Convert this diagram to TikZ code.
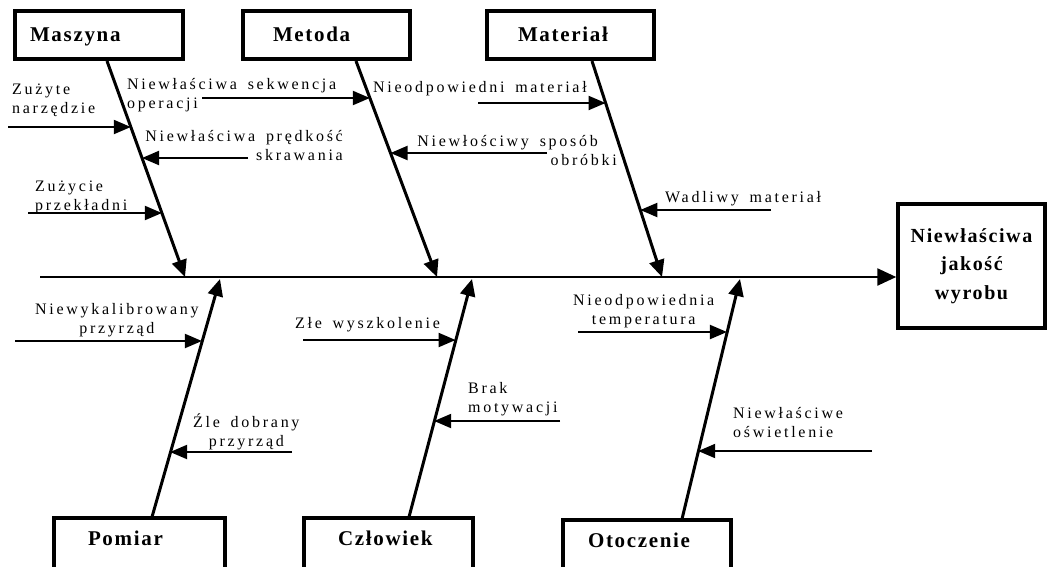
\documentclass[tikz,border=0pt]{standalone}
\usepackage{fontspec}
\setmainfont{Liberation Serif}
\newfontfamily\labfont[LetterSpace=17,WordSpace=1.6]{Liberation Serif}
\newfontfamily\boxfont[LetterSpace=8]{Liberation Serif}
\usetikzlibrary{arrows.meta,calc}
\begin{document}
\begin{tikzpicture}[x=1pt,y=-1pt,
  cause/.style={draw, line width=3.5pt, inner ysep=0pt, align=left, font=\boxfont\bfseries\fontsize{21}{24}\selectfont},
  topbox/.style={cause, minimum height=48pt, text height=14pt, text depth=2pt},
  botbox/.style={cause, minimum height=62pt, text height=14pt, text depth=22pt},
  bone/.style={line width=3pt, -{Triangle[length=17pt,width=15pt]}},
  spine/.style={line width=2.5pt, -{Triangle[length=19pt,width=17pt]}},
  twig/.style={line width=2pt, -{Triangle[length=17pt,width=14pt]}},
  lab/.style={inner sep=0pt, font=\labfont\fontsize{16}{19}\selectfont},
]
\useasboundingbox (0,0) rectangle (1048,566);

% cause boxes
\node[topbox, text width=138pt, inner xsep=15pt] (maszyna) at (99,35) {Maszyna};
\node[topbox, text width=107pt, inner xsep=30pt] (metoda) at (326.5,35) {Metoda};
\node[topbox, text width=105pt, inner xsep=31pt] (material) at (570.5,35) {Materiał};
\node[botbox, text width=103pt, inner xsep=34pt] (pomiar) at (139.5,549) {Pomiar};
\node[botbox, text width=101pt, inner xsep=34pt] (czlowiek) at (388.5,549) {Człowiek};
\node[botbox, text width=118pt, inner xsep=25pt] (otoczenie) at (647,551) {Otoczenie};

% effect box
\node[draw, line width=3.5pt, minimum width=147pt, minimum height=124pt, align=center,
      font=\boxfont\bfseries\fontsize{20}{28.5}\selectfont] (result) at (971.5,266) {Niewłaściwa\\jakość\\wyrobu};

% spine
\coordinate (spineS) at (40,277);
\draw[spine] (spineS) -- (spineS -| result.west);

% bones
\coordinate (mS) at (107,61);  \coordinate (mT) at (185,277);
\coordinate (eS) at (356,61);  \coordinate (eT) at (437,277);
\coordinate (aS) at (592,61);  \coordinate (aT) at (662,277);
\coordinate (pS) at (152,517); \coordinate (pT) at (220,279);
\coordinate (cS) at (409,517); \coordinate (cT) at (472,279);
\coordinate (oS) at (682,519); \coordinate (oT) at (740,279);
\draw[bone] (mS) -- (mT);
\draw[bone] (eS) -- (eT);
\draw[bone] (aS) -- (aT);
\draw[bone] (pS) -- (pT);
\draw[bone] (cS) -- (cT);
\draw[bone] (oS) -- (oT);

% twig tips on bones
\coordinate (t1) at ($(mS)!0.3056!(mT)$);
\coordinate (t2) at ($(eS)!0.1713!(eT)$);
\coordinate (t3) at ($(mS)!0.449!(mT)$);
\coordinate (t4) at ($(mS)!0.7037!(mT)$);
\coordinate (t5) at ($(aS)!0.194!(aT)$);
\coordinate (t6) at ($(eS)!0.426!(eT)$);
\coordinate (t7) at ($(aS)!0.69!(aT)$);
\coordinate (t8) at ($(pS)!0.734!(pT)$);
\coordinate (t9) at ($(cS)!0.7395!(cT)$);
\coordinate (t10) at ($(pS)!0.266!(pT)$);
\coordinate (t11) at ($(cS)!0.399!(cT)$);
\coordinate (t12) at ($(oS)!0.775!(oT)$);
\coordinate (t13) at ($(oS)!0.279!(oT)$);

% twig starts
\coordinate (s1) at (8,127);
\coordinate (s2) at (202,98);
\coordinate (s3) at (248,158);
\coordinate (s4) at (28,213);
\coordinate (s5) at (478,103);
\coordinate (s6) at (547,153);
\coordinate (s7) at (771,210);
\coordinate (s8) at (15,341);
\coordinate (s9) at (303,340);
\coordinate (s10) at (292,452);
\coordinate (s11) at (560,421);
\coordinate (s12) at (578,332);
\coordinate (s13) at (872,451);

\foreach \i in {1,...,13} {\draw[twig] (s\i) -- (s\i -| t\i);}

% labels (base anchor = baseline of the last line)
\node[lab, anchor=base west, align=left] (l1) at (12,113) {Zużyte\\narzędzie};
\node[lab, anchor=base west, align=left] (l2) at (127,108) {Niewłaściwa sekwencja\\operacji};
\node[lab, anchor=base east, align=right] (l3) at (343,160) {Niewłaściwa prędkość\\skrawania};
\node[lab, anchor=base west, align=left] (l4) at (35,210) {Zużycie\\przekładni};
\node[lab, anchor=base west] (l5) at (373,92) {Nieodpowiedni materiał};
\node[lab, anchor=base east, align=right] (l6) at (617,165) {Niewłościwy sposób\hspace*{19pt}\\obróbki};
\node[lab, anchor=base west] (l7) at (665,202) {Wadliwy materiał};
\node[lab, anchor=base west, align=center] (l8) at (35,333) {Niewykalibrowany\\przyrząd};
\node[lab, anchor=base west] (l9) at (295,328) {Złe wyszkolenie};
\node[lab, anchor=base west, align=center] (l10) at (193,446) {Źle dobrany\\przyrząd};
\node[lab, anchor=base west, align=left] (l11) at (468,412) {Brak\\motywacji};
\node[lab, anchor=base west, align=center] (l12) at (573,324) {Nieodpowiednia\\temperatura};
\node[lab, anchor=base west, align=left] (l13) at (733,437) {Niewłaściwe\\oświetlenie};
\end{tikzpicture}
\end{document}
